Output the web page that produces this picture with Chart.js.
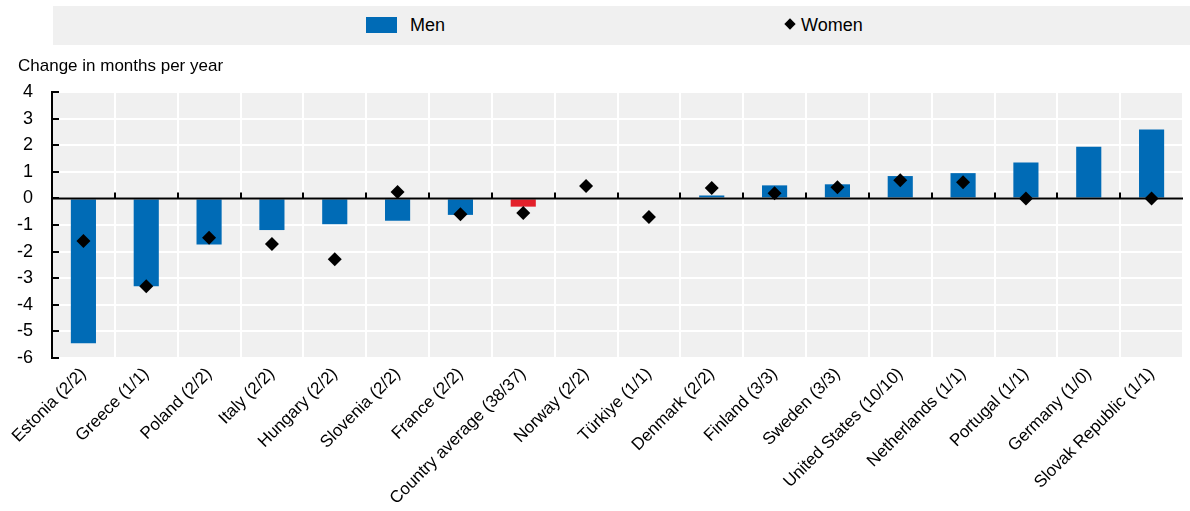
<!DOCTYPE html>
<html>
<head>
<meta charset="utf-8">
<script src="https://cdn.jsdelivr.net/npm/chart.js@4.4.1/dist/chart.umd.min.js"></script>
<style>
  html, body { margin: 0; padding: 0; background: #fff; }
  body { width: 1190px; height: 511px; position: relative; overflow: hidden;
         font-family: "Liberation Sans Narrow", "Arial Narrow", "Liberation Sans", Arial, sans-serif; }
  #legend { position: absolute; left: 53px; top: 6px; width: 1137px; height: 39px; background: #f0f0f0; }
  .lg { position: absolute; top: 0; height: 39px; line-height: 38px; font-size: 18px; color: #000; }
  #swatch { position: absolute; left: 313px; top: 11px; width: 31px; height: 16px; background: #006bb6; }
  #menTxt { left: 357px; }
  #diam { position: absolute; left: 733px; top: 14px; width: 8px; height: 8px; background: #000; transform: rotate(45deg); }
  #womenTxt { left: 748px; }
  #ytitle { position: absolute; left: 18px; top: 56px; font-size: 17px; color: #000; }
  #wrap { position: absolute; left: 0; top: 0; width: 1190px; height: 511px; }
</style>
</head>
<body>
<div id="wrap"><canvas id="c" width="1190" height="511"></canvas></div>
<div id="legend">
  <div id="swatch"></div><div class="lg" id="menTxt">Men</div>
  <div id="diam"></div><div class="lg" id="womenTxt">Women</div>
</div>
<div id="ytitle">Change in months per year</div>
<script>
const categories = ["Estonia (2/2)", "Greece (1/1)", "Poland (2/2)", "Italy (2/2)", "Hungary (2/2)",
  "Slovenia (2/2)", "France (2/2)", "Country average (38/37)", "Norway (2/2)", "Türkiye (1/1)",
  "Denmark (2/2)", "Finland (3/3)", "Sweden (3/3)", "United States (10/10)", "Netherlands (1/1)",
  "Portugal (1/1)", "Germany (1/0)", "Slovak Republic (1/1)"];
const menValues = [-5.45, -3.3, -1.73, -1.19, -0.97, -0.84, -0.62, -0.31, 0, 0,
  0.11, 0.49, 0.53, 0.84, 0.95, 1.35, 1.94, 2.59];
const womenValues = [-1.6, -3.3, -1.48, -1.71, -2.29, 0.24, -0.6, -0.55, 0.47, -0.7,
  0.39, 0.19, 0.42, 0.68, 0.61, 0.0, null, 0.0];
const yTicks = [4, 3, 2, 1, 0, -1, -2, -3, -4, -5, -6];
const averageLabel = "Country average (38/37)";

const FONT = "'Liberation Sans Narrow', 'Arial Narrow', 'Liberation Sans', Arial, sans-serif";
const barColors = categories.map(c => c === averageLabel ? "#e3202a" : "#006bb6");

const bgPlugin = {
  id: "bg",
  beforeDraw(chart) {
    const a = chart.chartArea, ctx = chart.ctx;
    ctx.save();
    ctx.fillStyle = "#f0f0f0";
    ctx.fillRect(a.left, a.top, a.right - a.left, a.bottom - a.top);
    ctx.restore();
  },
  afterDatasetDraw(chart, args) {
    if (args.meta.type !== "bar") return;
    const a = chart.chartArea, ctx = chart.ctx;
    const ys = chart.scales.y;
    const y0 = ys.getPixelForValue(0);
    ctx.save();
    ctx.strokeStyle = "#000";
    ctx.lineWidth = 2;
    ctx.beginPath();
    ctx.moveTo(a.left, y0);
    ctx.lineTo(a.right, y0);
    const step = (a.right - a.left) / categories.length;
    for (let i = 1; i < categories.length; i++) {
      const px = Math.round(a.left + i * step);
      ctx.moveTo(px, y0);
      ctx.lineTo(px, y0 - 6);
    }
    yTicks.forEach(v => {
      const py = Math.round(ys.getPixelForValue(v));
      ctx.moveTo(a.left, py);
      ctx.lineTo(a.left + 7, py);
    });
    ctx.stroke();
    ctx.restore();
  },
  afterDraw(chart) {
    const a = chart.chartArea, ctx = chart.ctx, ys = chart.scales.y;
    ctx.save();
    ctx.fillStyle = "#000";
    ctx.font = "18px " + FONT;
    ctx.textAlign = "right";
    ctx.textBaseline = "middle";
    yTicks.forEach(v => {
      ctx.fillText(String(v), a.left - 19, ys.getPixelForValue(v));
    });
    ctx.restore();
  }
};

new Chart(document.getElementById("c"), {
  type: "bar",
  data: {
    labels: categories,
    datasets: [
      {
        type: "bar",
        label: "Men",
        data: menValues,
        backgroundColor: barColors,
        borderWidth: 0,
        categoryPercentage: 1,
        barPercentage: 0.4,
        order: 2
      },
      {
        type: "line",
        label: "Women",
        data: womenValues,
        showLine: false,
        pointStyle: "rectRot",
        pointRadius: 7,
        pointHoverRadius: 7,
        pointBackgroundColor: "#000",
        pointBorderColor: "#000",
        pointBorderWidth: 0,
        order: 1
      }
    ]
  },
  options: {
    responsive: false,
    animation: false,
    layout: { padding: { top: 92, right: 0, left: 0, bottom: 0 } },
    plugins: { legend: { display: false }, tooltip: { enabled: false } },
    scales: {
      x: {
        grid: { color: "#ffffff", lineWidth: 2, drawTicks: false, offset: true },
        border: { display: false },
        ticks: {
          color: "#000", font: { family: FONT, size: 17 },
          maxRotation: 45, minRotation: 45, autoSkip: false, padding: 6
        },
        afterFit(scale) { scale.height = 511 - 358; }
      },
      y: {
        min: -6, max: 4,
        afterBuildTicks(scale) { scale.ticks = yTicks.map(v => ({ value: v })); },
        grid: { color: "#ffffff", lineWidth: 2, drawTicks: false },
        border: { display: true, color: "#000", width: 2 },
        ticks: { display: false },
        afterFit(scale) { scale.width = 52; }
      }
    }
  },
  plugins: [bgPlugin]
});
</script>
</body>
</html>
